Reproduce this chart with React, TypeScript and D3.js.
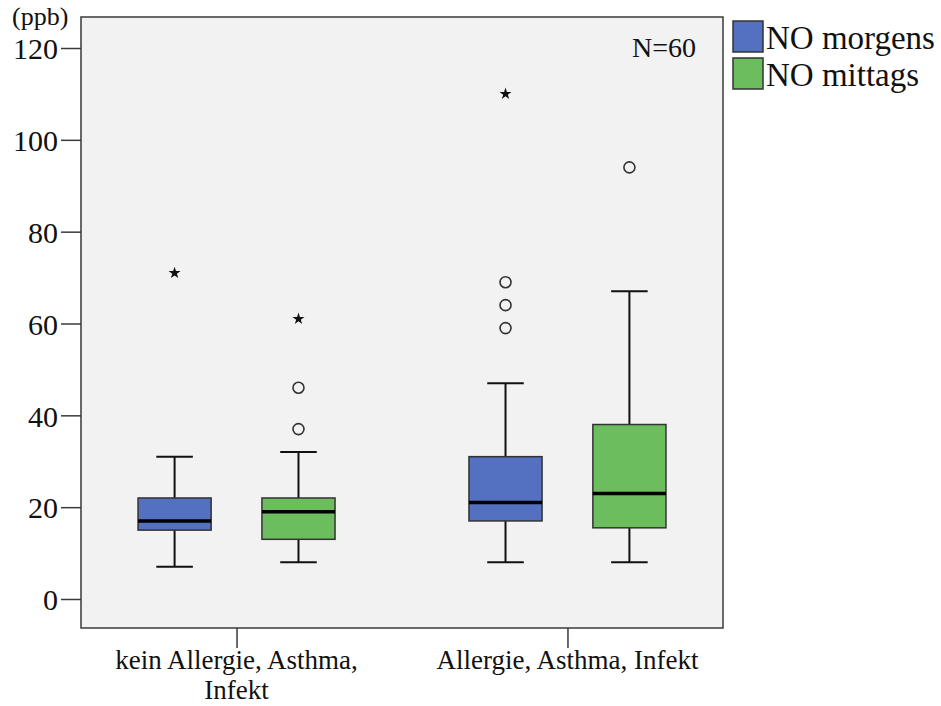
import React, { useEffect, useRef } from "react";
import * as d3 from "d3";

// groups on the x axis and the two series
const categories = ["kein Allergie, Asthma, Infekt", "Allergie, Asthma, Infekt"];
const categoryLines = [["kein Allergie, Asthma,", "Infekt"], ["Allergie, Asthma, Infekt"]];
const seriesNames = ["NO morgens", "NO mittags"];
const seriesColors = ["#5470c0", "#6cbd5e"];

// five-number summaries per category: [low whisker, Q1, median, Q3, high whisker]
const morgensStats = [
  [7, 15, 17, 22, 31],
  [8, 17, 21, 31, 47],
];
const mittagsStats = [
  [8, 13, 19, 22, 32],
  [8, 15.5, 23, 38, 67],
];
// outliers (circles) and extremes (stars)
const morgensOutliers = [[], [59, 64, 69]];
const mittagsOutliers = [[37, 46], [94]];
const morgensExtremes = [[71], [110]];
const mittagsExtremes = [[61], []];

const yTicks = [0, 20, 40, 60, 80, 100, 120];

function App() {
  const ref = useRef<SVGSVGElement>(null);

  useEffect(() => {
    const svg = d3.select(ref.current);
    svg.selectAll("*").remove();
    const font = '"Liberation Serif", "Times New Roman", Times, serif';

    const left = 81, right = 723, top = 17, bottom = 628;

    const y = d3.scaleLinear().domain([0, 120]).range([599, 48]);
    const x = d3.scalePoint<string>().domain(categories).range([left, right]).padding(0.47);
    const sub = d3.scaleBand<string>().domain(seriesNames).range([-98.5, 98.5]).paddingInner(0.41);
    const boxW = sub.bandwidth();

    // plot background
    svg.append("rect")
      .attr("x", left).attr("y", top)
      .attr("width", right - left).attr("height", bottom - top)
      .attr("fill", "#f2f2f2").attr("stroke", "#3a3a3a").attr("stroke-width", 1.5);

    // y axis
    const yAxis = svg.append("g").attr("transform", `translate(${left},0)`)
      .call(d3.axisLeft(y).tickValues(yTicks).tickSize(20).tickPadding(3));
    yAxis.attr("font-family", null).attr("font-size", null);
    yAxis.select(".domain").remove();
    yAxis.selectAll("line").attr("stroke", "#3a3a3a").attr("stroke-width", 1.5);
    yAxis.selectAll("text").style("font-family", font).style("font-size", "30px").attr("fill", "#111").attr("dy", "0.36em");

    svg.append("text").attr("x", 12).attr("y", 25)
      .style("font-family", font).style("font-size", "26px").attr("fill", "#111").text("(ppb)");

    // x axis ticks and labels
    const xAxis = svg.append("g").attr("transform", `translate(0,${bottom})`)
      .call(d3.axisBottom(x).tickSize(20).tickFormat(() => ""));
    xAxis.select(".domain").remove();
    xAxis.selectAll("line").attr("stroke", "#3a3a3a").attr("stroke-width", 1.5);

    categories.forEach((c, i) => {
      categoryLines[i].forEach((line, j) => {
        svg.append("text")
          .attr("x", x(c)!).attr("y", 669 + j * 30)
          .attr("text-anchor", "middle")
          .style("font-family", font).style("font-size", "27px").attr("fill", "#111")
          .text(line);
      });
    });

    const series = [
      { name: seriesNames[0], color: seriesColors[0], stats: morgensStats, outliers: morgensOutliers, extremes: morgensExtremes },
      { name: seriesNames[1], color: seriesColors[1], stats: mittagsStats, outliers: mittagsOutliers, extremes: mittagsExtremes },
    ];

    series.forEach(s => {
      categories.forEach((c, i) => {
        const [lo, q1, med, q3, hi] = s.stats[i];
        const x0 = x(c)! + sub(s.name)!;
        const cx = x0 + boxW / 2;
        const g = svg.append("g");
        // whiskers
        g.append("line").attr("x1", cx).attr("x2", cx).attr("y1", y(hi)).attr("y2", y(q3))
          .attr("stroke", "#111").attr("stroke-width", 2);
        g.append("line").attr("x1", cx).attr("x2", cx).attr("y1", y(q1)).attr("y2", y(lo))
          .attr("stroke", "#111").attr("stroke-width", 2);
        [lo, hi].forEach(v => {
          g.append("line").attr("x1", cx - boxW / 4).attr("x2", cx + boxW / 4)
            .attr("y1", y(v)).attr("y2", y(v)).attr("stroke", "#111").attr("stroke-width", 2);
        });
        // box
        g.append("rect").attr("x", x0).attr("y", y(q3))
          .attr("width", boxW).attr("height", y(q1) - y(q3))
          .attr("fill", s.color).attr("stroke", "#333").attr("stroke-width", 1.5);
        // median
        g.append("line").attr("x1", x0).attr("x2", x0 + boxW)
          .attr("y1", y(med)).attr("y2", y(med)).attr("stroke", "#000").attr("stroke-width", 3.5);
        // outliers
        s.outliers[i].forEach(v => {
          g.append("circle").attr("cx", cx).attr("cy", y(v)).attr("r", 5.5)
            .attr("fill", "none").attr("stroke", "#333").attr("stroke-width", 1.6);
        });
        s.extremes[i].forEach(v => {
          g.append("path").attr("transform", `translate(${cx},${y(v)})`)
            .attr("d", d3.symbol(d3.symbolStar, 45)()!).attr("fill", "#111");
        });
      });
    });

    svg.append("text").attr("x", 632).attr("y", 57)
      .style("font-family", font).style("font-size", "28px").attr("fill", "#111").text("N=60");

    // legend
    seriesNames.forEach((n, i) => {
      svg.append("rect").attr("x", 733).attr("y", 21 + i * 37)
        .attr("width", 30).attr("height", 31)
        .attr("fill", seriesColors[i]).attr("stroke", "#333").attr("stroke-width", 1.5);
      svg.append("text").attr("x", 766).attr("y", 49 + i * 37)
        .style("font-family", font).style("font-size", "33px").attr("fill", "#111").text(n);
    });
  }, []);

  return (
    <svg ref={ref} width={941} height={706}
      style={{ position: "absolute", left: 0, top: 0, background: "#fff" }} />
  );
}

export default App;
